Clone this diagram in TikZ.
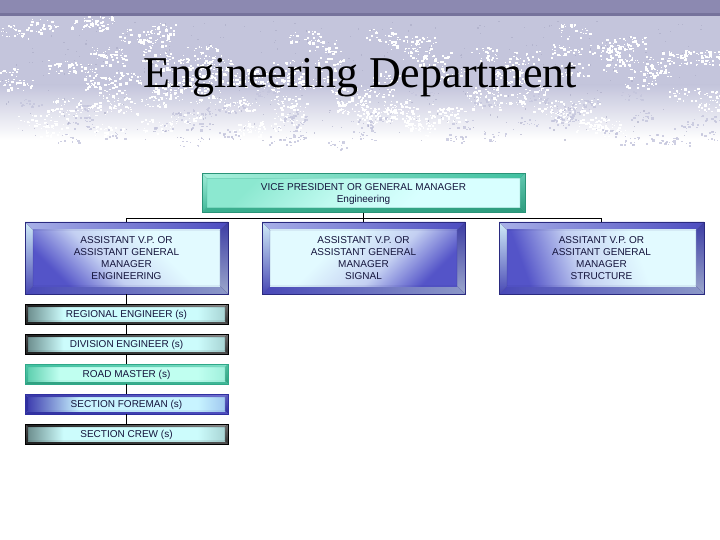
\documentclass[tikz,border=0pt]{standalone}
\usepackage{fontspec}
\setmainfont{Liberation Serif}
\newfontfamily\boxfont{Liberation Sans}
\usepackage{xcolor}
\usetikzlibrary{calc}

\definecolor{barpurple}{HTML}{8C89B1}
\definecolor{barshadow}{HTML}{76739C}
\definecolor{lav}{HTML}{C4C5DC}
\definecolor{lavdark}{HTML}{A9AAC4}
\definecolor{boxtext}{HTML}{14143C}
% big blue boxes
\definecolor{blueTopL}{HTML}{A8B0E8}\definecolor{blueTopR}{HTML}{4C4CC0}
\definecolor{blueLeftT}{HTML}{D0ECF8}\definecolor{blueLeftB}{HTML}{4848B4}
\definecolor{blueRightT}{HTML}{3C3CA4}\definecolor{blueRightB}{HTML}{9CA8CC}
\definecolor{blueBotL}{HTML}{4848B8}\definecolor{blueBotR}{HTML}{8C98C8}
\definecolor{blueFaceL}{HTML}{E2FAFF}\definecolor{blueFaceM}{HTML}{C4D0F2}\definecolor{blueFaceD}{HTML}{5454C8}
\definecolor{blueEdge}{HTML}{2A2A80}
% head box
\definecolor{mintTopL}{HTML}{A8F0DC}\definecolor{mintTopR}{HTML}{40C0A0}
\definecolor{mintLeftT}{HTML}{A0ECD8}\definecolor{mintLeftB}{HTML}{40B898}
\definecolor{mintRightT}{HTML}{60C8B0}\definecolor{mintRightB}{HTML}{2E9C7E}
\definecolor{mintBotL}{HTML}{3CB090}\definecolor{mintBotR}{HTML}{2E9C7E}
\definecolor{mintFaceL}{HTML}{D8FFFF}\definecolor{mintFaceM}{HTML}{C0FAF0}\definecolor{mintFaceD}{HTML}{8CE8D0}
\definecolor{mintEdge}{HTML}{2A9478}
% dark small boxes
\definecolor{inkTopL}{HTML}{202020}\definecolor{inkTopR}{HTML}{8A8A8A}
\definecolor{inkLeftT}{HTML}{505050}\definecolor{inkLeftB}{HTML}{202020}
\definecolor{inkRightT}{HTML}{707070}\definecolor{inkRightB}{HTML}{303030}
\definecolor{inkBotL}{HTML}{202020}\definecolor{inkBotR}{HTML}{505050}
\definecolor{inkFaceL}{HTML}{CCFCFC}\definecolor{inkFaceM}{HTML}{A8D4D4}\definecolor{inkFaceD}{HTML}{6E9090}
\definecolor{inkEdge}{HTML}{000000}
% road master
\definecolor{tealTopL}{HTML}{40C0A0}\definecolor{tealTopR}{HTML}{80E0C8}
\definecolor{tealLeftT}{HTML}{50C8A8}\definecolor{tealLeftB}{HTML}{38B090}
\definecolor{tealRightT}{HTML}{50C0A0}\definecolor{tealRightB}{HTML}{30A080}
\definecolor{tealBotL}{HTML}{30A080}\definecolor{tealBotR}{HTML}{40B898}
\definecolor{tealFaceL}{HTML}{C0FFF0}\definecolor{tealFaceM}{HTML}{A0F0DC}\definecolor{tealFaceD}{HTML}{60D0B0}
\definecolor{tealEdge}{HTML}{30A888}
% section foreman
\definecolor{navyTopL}{HTML}{3838A8}\definecolor{navyTopR}{HTML}{7070D0}
\definecolor{navyLeftT}{HTML}{3030A0}\definecolor{navyLeftB}{HTML}{3030A0}
\definecolor{navyRightT}{HTML}{6060C0}\definecolor{navyRightB}{HTML}{3030A0}
\definecolor{navyBotL}{HTML}{3030A0}\definecolor{navyBotR}{HTML}{5050C0}
\definecolor{navyFaceL}{HTML}{C8F4FF}\definecolor{navyFaceM}{HTML}{A0C8F0}\definecolor{navyFaceD}{HTML}{4040B0}
\definecolor{navyEdge}{HTML}{3030A0}

% faces: dark at the bottom of the shading, turned by the shading angle
\pgfdeclareverticalshading{blueFace}{100bp}{color(0bp)=(blueFaceD); color(25bp)=(blueFaceD); color(42bp)=(blueFaceM); color(62bp)=(blueFaceL); color(100bp)=(blueFaceL)}
\pgfdeclareverticalshading{mintFace}{100bp}{color(0bp)=(mintFaceD); color(25bp)=(mintFaceD); color(45bp)=(mintFaceM); color(62bp)=(mintFaceL); color(100bp)=(mintFaceL)}
\pgfdeclareverticalshading{inkFace}{100bp}{color(0bp)=(inkFaceD); color(25bp)=(inkFaceD); color(34bp)=(inkFaceL); color(68bp)=(inkFaceL); color(75bp)=(inkFaceM); color(100bp)=(inkFaceM)}
\pgfdeclareverticalshading{tealFace}{100bp}{color(0bp)=(tealFaceD); color(25bp)=(tealFaceD); color(33bp)=(tealFaceL); color(68bp)=(tealFaceL); color(75bp)=(tealFaceM); color(100bp)=(tealFaceM)}
\pgfdeclareverticalshading{navyFace}{100bp}{color(0bp)=(navyFaceD); color(25bp)=(navyFaceD); color(38bp)=(navyFaceL); color(68bp)=(navyFaceL); color(75bp)=(navyFaceM); color(100bp)=(navyFaceM)}

\tikzset{
	bevel/.style n args={3}{draw=#1Edge, align=center, text=boxtext, text depth=0pt,
		font=\boxfont\fontsize{10}{12}\selectfont,
		path picture={
			\path (path picture bounding box.north west) coordinate (nw)
				(path picture bounding box.north east) coordinate (ne)
				(path picture bounding box.south west) coordinate (sw)
				(path picture bounding box.south east) coordinate (se)
				($(nw)+(#2,-#2)$) coordinate (inw) ($(ne)+(-#2,-#2)$) coordinate (ine)
				($(sw)+(#2,#2)$) coordinate (isw) ($(se)+(-#2,#2)$) coordinate (ise);
			\shade[left color=#1TopL, right color=#1TopR] (nw) -- (ne) -- (ine) -- (inw) -- cycle;
			\shade[top color=#1LeftT, bottom color=#1LeftB] (nw) -- (inw) -- (isw) -- (sw) -- cycle;
			\shade[top color=#1RightT, bottom color=#1RightB] (ne) -- (se) -- (ise) -- (ine) -- cycle;
			\shade[left color=#1BotL, right color=#1BotR] (sw) -- (se) -- (ise) -- (isw) -- cycle;
			\shade[shading=#1Face, shading angle=#3] (inw) rectangle (ise);
			\draw[#1Edge, line width=0.3pt, opacity=0.6] (inw) rectangle (ise) (nw) -- (inw) (ne) -- (ine) (sw) -- (isw) (se) -- (ise);
		}},
	link/.style={draw=black, line width=1pt}
}

\begin{document}
\begin{tikzpicture}[x=1pt, y=-1pt]
	\useasboundingbox (0,0) rectangle (720,540);
	\fill[white] (0,0) rectangle (720,540);
	\fill[lav] (0,16) rectangle (720,85);
	\shade[top color=lav, bottom color=white] (0,85) rectangle (720,140);
	% mottled texture
	\pgfmathsetseed{7}
	\foreach \c in {1,...,110}{
		\pgfmathsetmacro{\cx}{rnd*720}
		\pgfmathsetmacro{\cy}{20+110*rnd^0.8}
		\foreach \k in {1,...,26}{
			\pgfmathsetmacro{\sx}{\cx+16*rand}
			\pgfmathsetmacro{\sy}{\cy+7*rand}
			\pgfmathsetmacro{\sw}{0.8+2.2*rnd}
			\fill[white] (\sx,\sy) rectangle ++(\sw,0.8*\sw);
		}
	}
	\foreach \c in {1,...,45}{
		\pgfmathsetmacro{\cx}{rnd*720}
		\pgfmathsetmacro{\cy}{95+50*rnd}
		\foreach \k in {1,...,14}{
			\pgfmathsetmacro{\sx}{\cx+12*rand}
			\pgfmathsetmacro{\sy}{\cy+5*rand}
			\pgfmathsetmacro{\sw}{0.8+2*rnd}
			\fill[lav, opacity=0.8] (\sx,\sy) rectangle ++(\sw,0.8*\sw);
		}
	}
	\foreach \k in {1,...,300}{
		\pgfmathsetmacro{\sx}{rnd*720}
		\pgfmathsetmacro{\sy}{20+120*rnd}
		\fill[lavdark, opacity=0.6] (\sx,\sy) rectangle ++(1.2,1.2);
	}
	\fill[barpurple] (0,0) rectangle (720,13);
	\fill[barshadow] (0,13) rectangle (720,16);

	\node[anchor=base, font=\fontsize{44}{50}\selectfont] (title) at (360,88) {Engineering Department};

	\node[bevel={mint}{5pt}{-135}, minimum width=323pt, minimum height=39pt] (vp) at (363.5,193) {VICE PRESIDENT OR GENERAL MANAGER\\Engineering};
	\node[bevel={blue}{8pt}{-45}, minimum width=203pt, minimum height=72pt] (asEng) at (126.5,258) {ASSISTANT V.P. OR\\ASSISTANT GENERAL\\MANAGER\\ENGINEERING};
	\node[bevel={blue}{8pt}{45}, minimum width=203pt, minimum height=72pt] (asSig) at (363.5,258) {ASSISTANT V.P. OR\\ASSISTANT GENERAL\\MANAGER\\SIGNAL};
	\node[bevel={blue}{8pt}{-70}, minimum width=205pt, minimum height=72pt] (asStr) at (601.5,258) {ASSITANT V.P. OR\\ASSITANT GENERAL\\MANAGER\\STRUCTURE};

	\node[bevel={ink}{3pt}{-90}, minimum width=203pt, minimum height=20pt] (regEng) at (126.5,314) {REGIONAL ENGINEER (s)};
	\node[bevel={ink}{3pt}{-90}, minimum width=203pt, minimum height=20pt] (divEng) at (126.5,344) {DIVISION ENGINEER (s)};
	\node[bevel={teal}{3pt}{-90}, minimum width=203pt, minimum height=20pt] (roadMst) at (126.5,374) {ROAD MASTER (s)};
	\node[bevel={navy}{3pt}{-90}, minimum width=203pt, minimum height=20pt] (secFor) at (126.5,404) {SECTION FOREMAN (s)};
	\node[bevel={ink}{3pt}{-90}, minimum width=203pt, minimum height=20pt] (secCrew) at (126.5,434) {SECTION CREW (s)};

	\coordinate (bus) at (363.5,218.5);
	\draw[link] (vp.south) -- (bus);
	\draw[link] (asEng.north) |- (bus) -| (asStr.north);
	\draw[link] (bus) -- (asSig.north);
	\draw[link] (asEng.south) -- (regEng.north);
	\draw[link] (regEng.south) -- (divEng.north);
	\draw[link] (divEng.south) -- (roadMst.north);
	\draw[link] (roadMst.south) -- (secFor.north);
	\draw[link] (secFor.south) -- (secCrew.north);
\end{tikzpicture}
\end{document}
